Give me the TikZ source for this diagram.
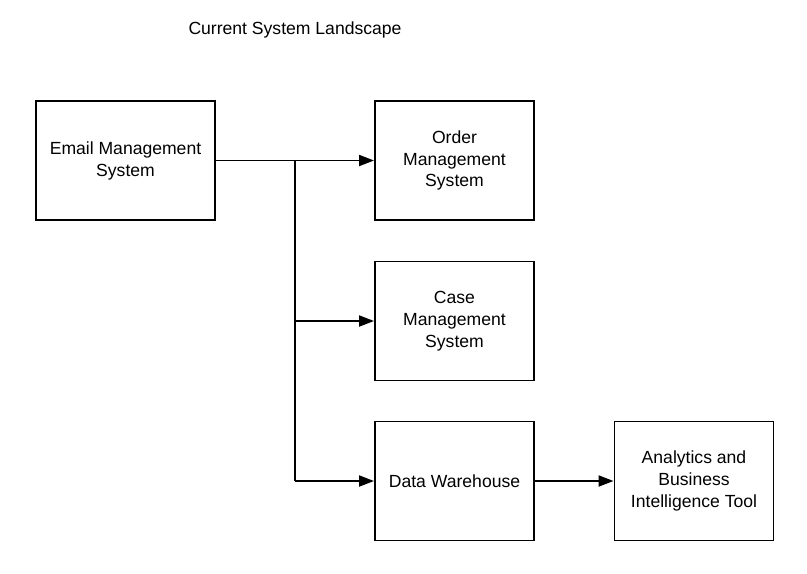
\documentclass[tikz,border=0pt]{standalone}
\usepackage{fontspec}
\setmainfont{Liberation Sans}
\usetikzlibrary{arrows.meta,calc}

\begin{document}
\begin{tikzpicture}[x=0.025cm,y=-0.025cm]

\useasboundingbox (0,0) rectangle (807,573);

\node[font=\fontsize{12.5}{15.6}\selectfont] (title) at (295,30) {Current System Landscape};

\begin{scope}[every node/.style={draw,line width=1.4pt,rectangle,align=center,inner sep=0pt,minimum height=119*0.025cm,font=\fontsize{12.5}{15.6}\selectfont}]
\node[minimum width=179*0.025cm] (email) at (125.5,160.5) {Email Management\\System};
\node[minimum width=159*0.025cm] (order) at (454.5,160.5) {Order\\Management\\System};
\node[minimum width=159*0.025cm] (case) at (454.5,321) {Case\\Management\\System};
\node[minimum width=159*0.025cm] (dw) at (454.5,481) {Data Warehouse};
\node[minimum width=159*0.025cm] (bi) at (694,481) {Analytics and\\Business\\Intelligence Tool};
\end{scope}

\coordinate (j1) at (295,160.5);
\coordinate (j2) at (295,321);
\coordinate (j3) at (295,481);

%
\begin{scope}[line width=1.4pt,-{Triangle[length=15*0.025cm,width=11*0.025cm]}]
\draw (email) -- (order);
\draw (j2) -- (case);
\draw (j3) -- (dw);
\draw (dw) -- (bi);
\end{scope}

\draw[-,line width=1.4pt] (j1) -- (j3);

\end{tikzpicture}
\end{document}
